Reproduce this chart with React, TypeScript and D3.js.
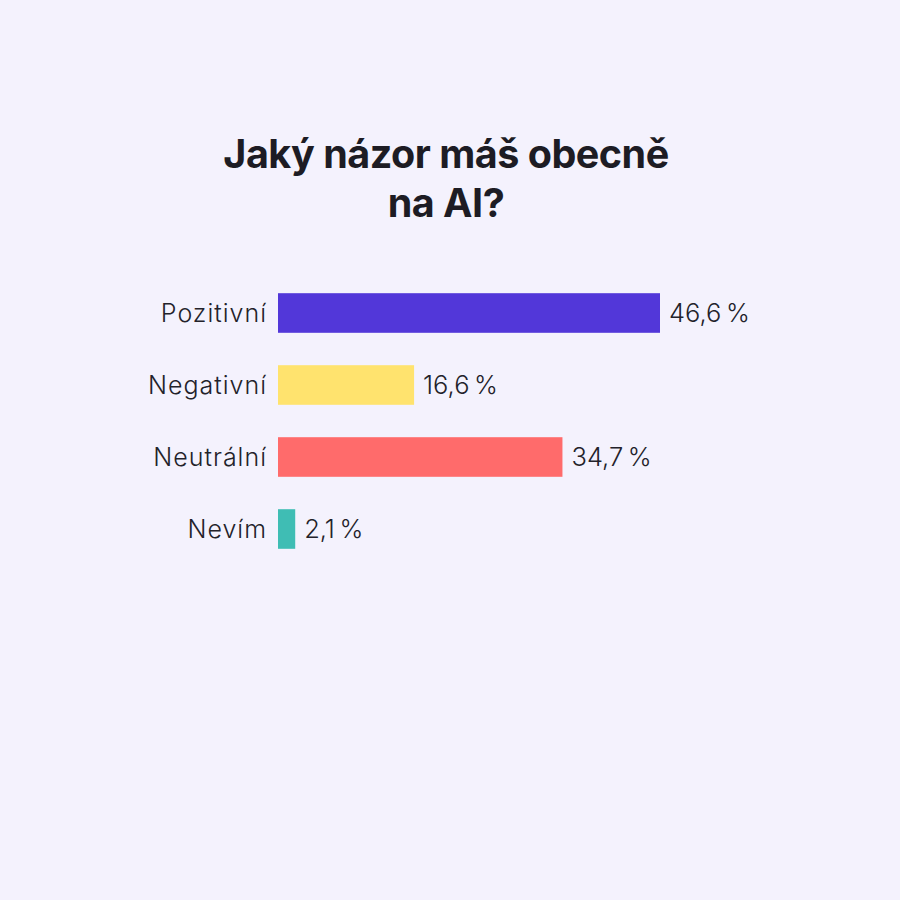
import React from "react";
import * as d3 from "d3";

const categories = ["Pozitivní", "Negativní", "Neutrální", "Nevím"];
const values = [46.6, 16.6, 34.7, 2.1];
const valueLabels = ["46,6\u202F%", "16,6\u202F%", "34,7\u202F%", "2,1\u202F%"];
const colors = ["#5237d9", "#ffe36e", "#ff6b6b", "#3fbdb4"];
const titleLines = ["Jaký názor máš obecně", "na AI?"];

const W = 900;
const H = 900;

export default function App() {
  const x = d3.scaleLinear().domain([0, 46.6]).range([278, 660]);
  const y = d3.scaleBand().domain(categories).range([277, 565]).paddingInner(0.45).paddingOuter(0.225);
  const font = "Inter, 'Noto Sans', sans-serif";
  return (
    <div style={{ position: "absolute", left: 0, top: 0, width: W, height: H }}>
      <svg width={W} height={H} style={{ display: "block" }}>
        <rect width={W} height={H} fill="#f4f2fd" />
        {titleLines.map((t, i) => (
          <text
            key={i}
            x={446}
            y={168 + i * 49}
            textAnchor="middle"
            fontFamily={font}
            fontWeight={700}
            fontSize={39.5}
            letterSpacing={-0.5}
            fill="#1d1c24"
          >
            {t}
          </text>
        ))}
        {categories.map((c, i) => {
          const yy = y(c)!;
          const bh = y.bandwidth();
          return (
            <g key={c}>
              <rect x={x(0)} y={yy} width={x(values[i]) - x(0)} height={bh} fill={colors[i]} />
              <text
                x={267}
                y={yy + bh / 2}
                dy="0.36em"
                textAnchor="end"
                fontFamily={font}
                fontWeight={300}
                fontSize={25}
                letterSpacing={1.0}
                fill="#23222a"
              >
                {c}
              </text>
              <text
                x={x(values[i]) + 9}
                y={yy + bh / 2}
                dy="0.36em"
                fontFamily={font}
                fontWeight={300}
                fontSize={25.5}
                letterSpacing={1.8}
                fill="#23222a"
              >
                {valueLabels[i]}
              </text>
            </g>
          );
        })}
      </svg>
    </div>
  );
}
